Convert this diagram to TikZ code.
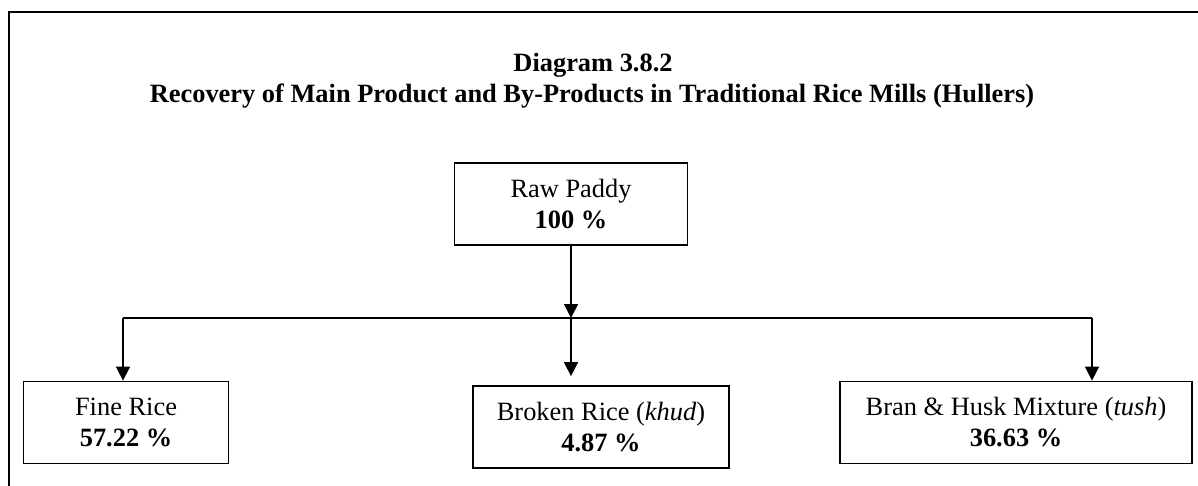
\documentclass[tikz,border=0pt]{standalone}
\usepackage{fontspec}
\setmainfont{Liberation Serif}
\usetikzlibrary{arrows.meta}
\tikzset{
  box/.style={draw, line width=0.9pt, align=center, inner sep=0pt,
    minimum height=41pt, font=\fontsize{13.2}{15.5}\selectfont},
  arr/.style={line width=0.8pt, -{Triangle[width=7pt,length=7pt]}},
  heading/.style={anchor=base, inner sep=0pt, font=\fontsize{13.2}{15.5}\selectfont\bfseries}
}
\begin{document}
\begin{tikzpicture}[x=0.5pt,y=-0.5pt,level distance=109.25pt,sibling distance=222.5pt]
\useasboundingbox (0,0) rectangle (1198,486);
\draw[line width=1pt] (9,486) |- (1198,12);
\node[heading] (title) at (593,72) {Diagram 3.8.2};
\node[heading] (subtitle) at (592,102.7) {Recovery of Main Product and By-Products in Traditional Rice Mills (Hullers)};
\node[box,minimum width=116.5pt] (paddy) at (571,204) {Raw Paddy\\\textbf{100 \%}}
  child {node[box,minimum width=102.5pt] (fine) {Fine Rice\\\textbf{57.22 \%}} edge from parent[draw=none]}
  child {node[box,minimum width=128pt,xshift=15pt,yshift=-2.25pt] (broken) {Broken Rice (\textit{khud})\\\textbf{4.87 \%}} edge from parent[draw=none]}
  child {node[box,minimum width=176pt] (bran) {Bran \& Husk Mixture (\textit{tush})\\\textbf{36.63 \%}} edge from parent[draw=none]};
\coordinate (busL) at (123,318);
\coordinate (busR) at (1092,318);
\coordinate (hub) at (paddy.south |- busL);
\draw[line width=0.6pt] (busL) -- (busR);
\draw[arr] (paddy.south) -- (hub);
\draw[arr] (busL) -- (busL |- fine.north);
\draw[arr,shorten >=4.5pt] (hub) -- (hub |- broken.north);
\draw[arr] (busR) -- (busR |- bran.north);
\end{tikzpicture}
\end{document}
